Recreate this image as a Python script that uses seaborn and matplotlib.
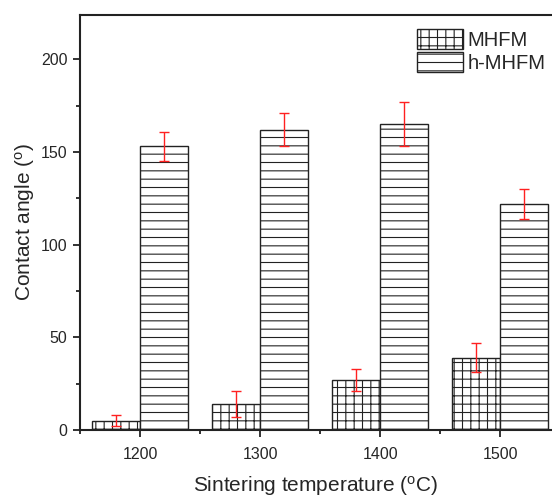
""" Ângulo de contato por temperatura de sinterização """

import matplotlib
matplotlib.use('Agg')
import matplotlib.pyplot as plt
from matplotlib.ticker import MultipleLocator
import pandas as pd
import seaborn as sns

# dados
temperaturas = [1200, 1300, 1400, 1500]
amostras = ['MHFM', 'h-MHFM']
angulo_mhfm = [5, 14, 27, 39]
erro_mhfm = [3, 7, 6, 8]
angulo_hmhfm = [153, 162, 165, 122]
erro_hmhfm = [8, 9, 12, 8]

sns.set_style('ticks')
plt.rcParams['font.family'] = ['Liberation Sans', 'DejaVu Sans']
plt.rcParams['mathtext.fontset'] = 'custom'
plt.rcParams['mathtext.rm'] = 'Liberation Sans'
plt.rcParams['hatch.linewidth'] = 0.8

dados = pd.DataFrame({
    'temperatura': temperaturas * 2,
    'amostra': [amostras[0]] * 4 + [amostras[1]] * 4,
    'angulo': angulo_mhfm + angulo_hmhfm,
    'erro': erro_mhfm + erro_hmhfm,
})

fig = plt.figure(figsize=(5.52, 4.97), dpi=100)
ax = fig.add_axes([0.145, 0.135, 0.855, 0.835])

sns.barplot(
    data=dados,
    x='temperatura',
    y='angulo',
    hue='amostra',
    hue_order=amostras,
    native_scale=True,
    width=0.8,
    errorbar=None,
    ax=ax
)

hachuras = ['++', '--']
for container, hachura, amostra in zip(ax.containers, hachuras, amostras):
    sub = dados[dados['amostra'] == amostra]
    centros = []
    for patch in container:
        patch.set_facecolor('white')
        patch.set_edgecolor('#222222')
        patch.set_linewidth(1.0)
        patch.set_hatch(hachura)
        centros.append(patch.get_x() + patch.get_width() / 2)
    # barras de erro em vermelho
    ax.errorbar(
        centros, sub['angulo'], yerr=sub['erro'],
        fmt='none', ecolor='#ff2020', elinewidth=1.0,
        capsize=3.5, capthick=1.0, zorder=5
    )

ax.set_xlim(1150, 1543)
ax.set_ylim(0, 224)
ax.xaxis.set_major_locator(MultipleLocator(100))
ax.xaxis.set_minor_locator(MultipleLocator(50))
ax.yaxis.set_major_locator(MultipleLocator(50))
ax.yaxis.set_minor_locator(MultipleLocator(25))
ax.set_xticks(temperaturas)
ax.set_xticklabels([str(t) for t in temperaturas])

ax.tick_params(axis='both', which='major', direction='out', length=5,
               width=1.3, labelsize=11.5, color='#222222')
ax.tick_params(axis='both', which='minor', direction='out', length=3,
               width=1.3, color='#222222')
ax.tick_params(axis='x', pad=7)
ax.tick_params(axis='y', pad=4)

for lado in ['left', 'top', 'bottom']:
    ax.spines[lado].set_linewidth(1.5)
    ax.spines[lado].set_color('#222222')
ax.spines['right'].set_visible(False)

ax.set_xlabel(r'Sintering temperature ($\mathregular{^oC}$)', fontsize=15, labelpad=9)
ax.set_ylabel(r'Contact angle ($\mathregular{^o}$)', fontsize=15, labelpad=3)

ax.legend(
    handles=ax.containers, labels=amostras,
    loc='upper left', bbox_to_anchor=(0.714, 0.965),
    frameon=False, fontsize=14.5, handlelength=2.3, handleheight=1.15,
    labelspacing=0.1, handletextpad=0.2, borderpad=0, borderaxespad=0
)

plt.savefig('out.png', dpi=100)
